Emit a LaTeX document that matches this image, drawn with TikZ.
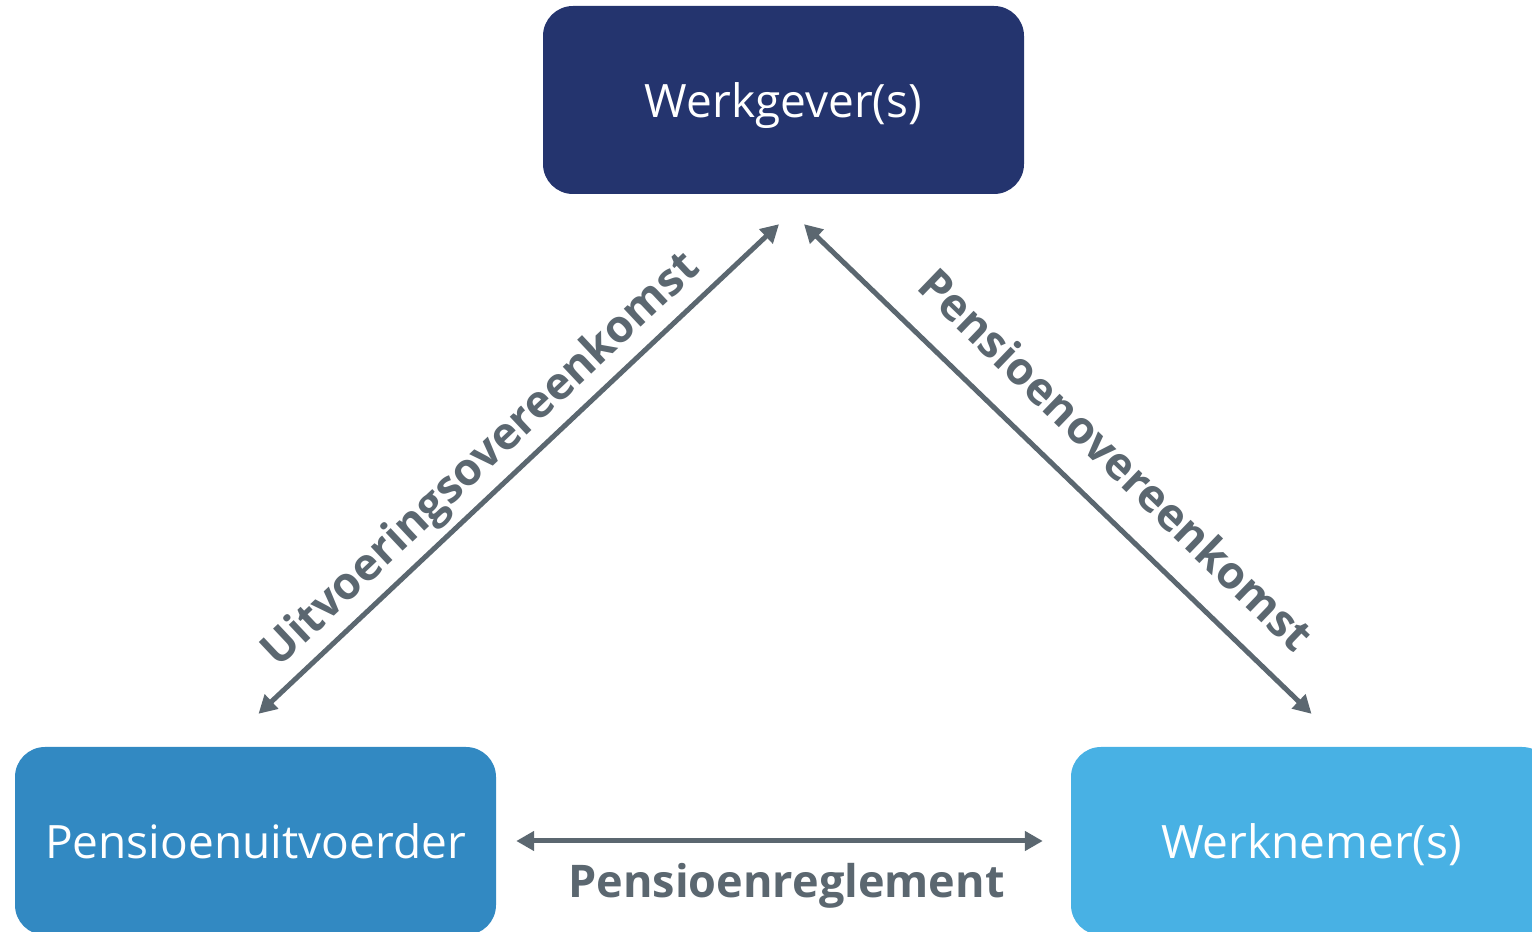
\documentclass[tikz,border=0pt]{standalone}
\usepackage{fontspec}
\setmainfont{Open Sans}
\usetikzlibrary{shapes, positioning, arrows.meta}

\definecolor{navy}{HTML}{24346E}
\definecolor{midblue}{HTML}{3289C2}
\definecolor{lightblue}{HTML}{48B1E4}
\definecolor{linegray}{HTML}{5B6770}

\begin{document}
\begin{tikzpicture}[x=1pt, y=1pt, >={Triangle[length=18pt, width=19pt]}]
\tikzstyle{party}=[rectangle, rounded corners=30pt, minimum width=481pt, minimum height=188pt, text=white, font=\fontsize{46}{54}\selectfont, text depth=0pt, inner sep=0pt]
\tikzstyle{link}=[<->, draw=linegray, line width=5pt]
\tikzstyle{deal}=[text=linegray, font=\fontsize{45}{54}\selectfont\bfseries, inner sep=6pt]

\useasboundingbox (0,0) rectangle (1532,932);

\node[party, fill=navy]        (WG) at (783.5,832)  {Werkgever(s)};
\node[party, fill=midblue]     (PU) at (255.5,91)   {Pensioenuitvoerder};
\node[party, fill=lightblue]   (WN) at (1311.5,91)  {Werknemer(s)};

\path
([xshift=3pt, yshift=33pt]PU.north) edge[link] node[deal, sloped, above, pos=0.47, yshift=0pt]{Uitvoeringsovereenkomst} ([xshift=-4.5pt, yshift=-30pt]WG.south)
([xshift=20.5pt, yshift=-30pt]WG.south) edge[link] node[deal, sloped, above, pos=0.55, yshift=22pt]{Pensioenovereenkomst} ([yshift=33pt]WN.north)
([xshift=20pt]PU.east) edge[link] node[deal, below, xshift=7pt, yshift=-14pt]{Pensioenreglement} ([xshift=-28pt]WN.west);

\end{tikzpicture}
\end{document}
